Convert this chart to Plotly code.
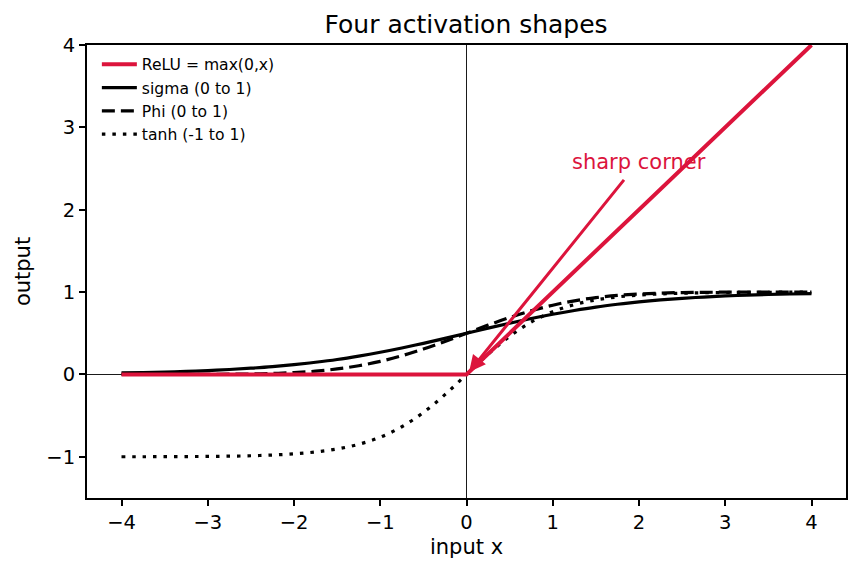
import plotly.graph_objects as go

x_vals = [-4.0, -3.75, -3.5, -3.25, -3.0, -2.75, -2.5, -2.25, -2.0, -1.75, -1.5, -1.25, -1.0,
          -0.75, -0.5, -0.25, 0.0, 0.25, 0.5, 0.75, 1.0, 1.25, 1.5, 1.75, 2.0, 2.25, 2.5, 2.75,
          3.0, 3.25, 3.5, 3.75, 4.0]
sigma_vals = [0.018, 0.023, 0.029, 0.037, 0.047, 0.060, 0.076, 0.095, 0.119, 0.148, 0.182, 0.223,
              0.269, 0.321, 0.378, 0.438, 0.500, 0.562, 0.622, 0.679, 0.731, 0.777, 0.818, 0.852,
              0.881, 0.905, 0.924, 0.940, 0.953, 0.963, 0.971, 0.977, 0.982]
phi_vals = [0.000, 0.000, 0.000, 0.001, 0.001, 0.003, 0.006, 0.012, 0.023, 0.040, 0.067, 0.106,
            0.159, 0.227, 0.309, 0.401, 0.500, 0.599, 0.691, 0.773, 0.841, 0.894, 0.933, 0.960,
            0.977, 0.988, 0.994, 0.997, 0.999, 0.999, 1.000, 1.000, 1.000]
tanh_vals = [-0.999, -0.999, -0.998, -0.997, -0.995, -0.992, -0.987, -0.978, -0.964, -0.941, -0.905,
             -0.848, -0.762, -0.635, -0.462, -0.245, 0.000, 0.245, 0.462, 0.635, 0.762, 0.848,
             0.905, 0.941, 0.964, 0.978, 0.987, 0.992, 0.995, 0.997, 0.998, 0.999, 0.999]
relu_x = [-4.0, 0.0, 4.0]
relu_y = [0.0, 0.0, 4.0]

crimson = "#DC143C"
font = "DejaVu Sans, Arial, sans-serif"

fig = go.Figure()
fig.add_trace(go.Scatter(x=x_vals, y=sigma_vals, mode="lines", name="sigma (0 to 1)",
                         line=dict(color="black", width=3.2, shape="spline"), legendrank=2))
fig.add_trace(go.Scatter(x=x_vals, y=phi_vals, mode="lines", name="Phi (0 to 1)",
                         line=dict(color="black", width=3.2, dash="13px,6px", shape="spline"), legendrank=3))
fig.add_trace(go.Scatter(x=x_vals, y=tanh_vals, mode="lines", name="tanh (-1 to 1)",
                         line=dict(color="black", width=3.2, dash="3.5px,7px", shape="spline"), legendrank=4))
fig.add_trace(go.Scatter(x=relu_x, y=relu_y, mode="lines", name="ReLU = max(0,x)",
                         line=dict(color=crimson, width=4), legendrank=1))

# arrow
fig.add_annotation(x=0.03, y=0.03, ax=1.84, ay=2.38, xref="x", yref="y", axref="x", ayref="y",
                   text="", showarrow=True, arrowhead=2, arrowsize=1.1, arrowwidth=3,
                   arrowcolor=crimson, standoff=0)
fig.add_annotation(x=1.2, y=2.58, xref="x", yref="y", text="sharp corner", showarrow=False,
                   xanchor="left", yanchor="middle", font=dict(color=crimson, size=21, family=font))

axis_common = dict(showgrid=False, showline=True, linecolor="black", linewidth=2, mirror=True,
                   ticks="outside", ticklen=6, tickwidth=1.6, tickcolor="black",
                   zeroline=True, zerolinecolor="#1a1a1a", zerolinewidth=1.4,
                   tickfont=dict(size=19.5, family=font, color="black"),
                   title_font=dict(size=21, family=font, color="black"))

fig.update_xaxes(range=[-4.4, 4.4], tickvals=[-4, -3, -2, -1, 0, 1, 2, 3, 4],
                 title_text="input x", title_standoff=6, **axis_common)
fig.update_yaxes(range=[-1.5, 4], tickvals=[-1, 0, 1, 2, 3, 4],
                 title_text="output", title_standoff=10, **axis_common)

fig.update_layout(
    width=860, height=573,
    margin=dict(l=87, r=14, t=45, b=75),
    paper_bgcolor="white", plot_bgcolor="white",
    title=dict(text="Four activation shapes", x=0.542, xanchor="center", y=0.957, yanchor="middle",
               font=dict(size=25, family=font, color="black")),
    legend=dict(x=0.013, y=0.994, xanchor="left", yanchor="top", bgcolor="rgba(0,0,0,0)",
                font=dict(size=15.6, family=font, color="black"), itemwidth=35),
    showlegend=True,
)

fig.write_html("out.html")
